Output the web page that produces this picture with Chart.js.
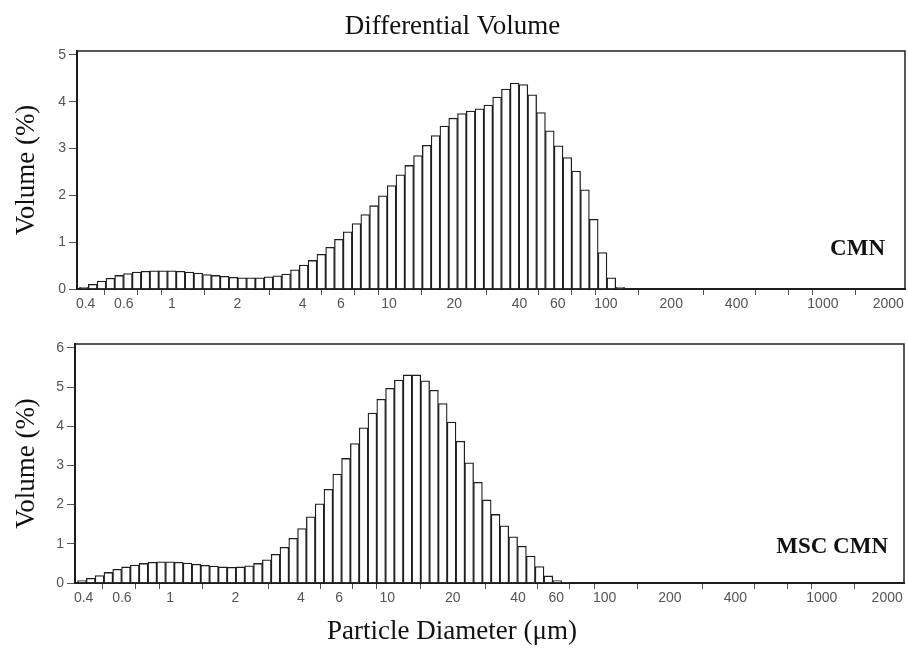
<!DOCTYPE html>
<html><head><meta charset="utf-8">
<script src="https://cdn.jsdelivr.net/npm/chart.js@4.4.0/dist/chart.umd.min.js"></script>
<style>
html,body{margin:0;padding:0;background:#fff;}
#wrap{position:relative;width:908px;height:648px;overflow:hidden;background:#fff;}
#c1{position:absolute;left:0;top:0;}
#c2{position:absolute;left:0;top:318px;}
</style></head><body>
<div id="wrap"><canvas id="c1" width="908" height="318"></canvas><canvas id="c2" width="908" height="330"></canvas></div>
<script>
// Lower edges of the size channels (µm)
const binEdges = [0.375, 0.4117, 0.4519, 0.4961, 0.5446, 0.5978, 0.6563, 0.7204, 0.7909, 0.8682,
  0.9531, 1.0463, 1.1486, 1.2609, 1.3842, 1.5195, 1.6681, 1.8311, 2.0102, 2.2067,
  2.4224, 2.6593, 2.9193, 3.2047, 3.5180, 3.8620, 4.2396, 4.6541, 5.1091, 5.6086,
  6.1570, 6.7590, 7.4198, 8.1452, 8.9415, 9.8156, 10.775, 11.829, 12.985, 14.255,
  15.648, 17.178, 18.858, 20.701, 22.725, 24.947, 27.386, 30.063, 33.003, 36.229,
  39.771, 43.659, 47.928, 52.614, 57.758, 63.405, 69.604, 76.409, 83.879, 92.080,
  101.08, 110.97, 121.81, 133.72];

// Differential volume (%) per channel
const cmnVolume = [0.04, 0.10, 0.17, 0.23, 0.29, 0.33, 0.36, 0.38, 0.39, 0.39,
  0.39, 0.38, 0.36, 0.34, 0.31, 0.29, 0.27, 0.25, 0.24, 0.24,
  0.24, 0.26, 0.28, 0.32, 0.41, 0.51, 0.61, 0.74, 0.89, 1.06,
  1.22, 1.40, 1.59, 1.78, 1.99, 2.21, 2.44, 2.64, 2.85, 3.07,
  3.28, 3.48, 3.65, 3.75, 3.80, 3.85, 3.93, 4.10, 4.27, 4.40,
  4.37, 4.15, 3.77, 3.38, 3.06, 2.81, 2.52, 2.12, 1.49, 0.78,
  0.24, 0.04, 0.01];

const mscCmnVolume = [0.06, 0.12, 0.19, 0.27, 0.35, 0.41, 0.46, 0.50, 0.53, 0.54,
  0.54, 0.53, 0.51, 0.48, 0.45, 0.43, 0.41, 0.40, 0.41, 0.44,
  0.50, 0.59, 0.73, 0.91, 1.14, 1.39, 1.69, 2.02, 2.39, 2.78,
  3.18, 3.56, 3.96, 4.34, 4.69, 4.97, 5.18, 5.31, 5.31, 5.16,
  4.92, 4.58, 4.11, 3.62, 3.07, 2.57, 2.12, 1.75, 1.46, 1.18,
  0.94, 0.69, 0.42, 0.18, 0.06, 0.02];

const xTickValues = [0.4, 0.6, 0.8, 1, 2, 4, 6, 8, 10, 20, 40, 60, 80, 100, 200, 400, 600, 800, 1000, 2000];
const xTickLabels = ['0.4', '0.6', '', '1', '2', '4', '6', '', '10', '20', '40', '60', '', '100', '200', '400', '', '', '1000', '2000'];
const yTicksTop = [0, 1, 2, 3, 4, 5];
const yTicksBottom = [0, 1, 2, 3, 4, 5, 6];

const chartTitle = 'Differential Volume';
const yTitle = 'Volume (%)';
const xTitle = 'Particle Diameter (\u03bcm)';
const sampleTop = 'CMN';
const sampleBottom = 'MSC CMN';

function toPoints(values) {
  return values.map((v, i) => ({ x: Math.sqrt(binEdges[i] * binEdges[i + 1]), y: v }));
}

const framePlugin = {
  id: 'frame',
  afterDraw(chart, args, o) {
    const { ctx, chartArea: a } = chart;
    ctx.save();
    ctx.strokeStyle = '#222';
    ctx.lineWidth = 1.5;
    ctx.strokeRect(a.left, a.top, a.right - a.left, a.bottom - a.top);
    ctx.font = 'bold 23px "Liberation Serif"';
    ctx.fillStyle = '#111';
    ctx.textAlign = 'right';
    ctx.textBaseline = 'alphabetic';
    ctx.fillText(o.label, a.right - o.dx, a.bottom - o.dy);
    ctx.restore();
  }
};

const tickFont = { family: '"Liberation Sans", Arial, sans-serif', size: 14 };
const serif = '"Liberation Serif", "Times New Roman", serif';

function makeChart(canvas, cfg) {
  return new Chart(canvas, {
    type: 'bar',
    data: {
      datasets: [{
        data: toPoints(cfg.values),
        backgroundColor: '#ffffff',
        borderColor: '#1e1e1e',
        borderWidth: 1.3,
        barPercentage: 1,
        categoryPercentage: 1
      }]
    },
    options: {
      responsive: false,
      animation: false,
      devicePixelRatio: 1,
      layout: { padding: cfg.padding },
      plugins: {
        legend: { display: false },
        tooltip: { enabled: false },
        title: cfg.title,
        frame: { label: cfg.label, dx: cfg.labelDx, dy: cfg.labelDy }
      },
      scales: {
        x: {
          type: 'logarithmic',
          min: 0.365,
          max: 2390,
          afterBuildTicks: (ax) => { ax.ticks = xTickValues.map(v => ({ value: v })); },
          afterFit: (s) => { s.height = cfg.xHeight; s.paddingLeft = 0; s.paddingRight = 0; },
          ticks: {
            autoSkip: false, maxRotation: 0, minRotation: 0,
            font: tickFont, color: '#555', padding: 1,
            callback: (v, i) => xTickLabels[i]
          },
          grid: { drawOnChartArea: false, drawTicks: true, tickLength: 6, color: '#555' },
          border: { display: true, color: '#111', width: 2 }
        },
        y: {
          type: 'linear',
          min: 0,
          max: cfg.yMax,
          afterBuildTicks: (ax) => { ax.ticks = cfg.yTicks.map(v => ({ value: v })); },
          afterFit: (s) => { s.width = cfg.yWidth; s.paddingTop = 0; s.paddingBottom = 0; },
          ticks: { font: tickFont, color: '#555', padding: 3 },
          grid: { drawOnChartArea: false, drawTicks: true, tickLength: 8, color: '#555' },
          border: { display: true, color: '#111', width: 2 },
          title: {
            display: true, text: yTitle, color: '#111',
            font: { family: serif, size: 27 }, padding: { top: 11, bottom: 0 }
          }
        }
      }
    },
    plugins: [framePlugin]
  });
}

makeChart(document.getElementById('c1'), {
  values: cmnVolume,
  yMax: 5.085,
  yTicks: yTicksTop,
  yWidth: 77,
  xHeight: 29,
  padding: { top: 0, left: 0, right: 3, bottom: 0 },
  title: {
    display: true, text: chartTitle, color: '#111', position: 'top',
    font: { family: serif, size: 27, weight: 'normal' }, padding: { top: 11, bottom: 7.6 }
  },
  label: sampleTop, labelDx: 20, labelDy: 34
});

makeChart(document.getElementById('c2'), {
  values: mscCmnVolume,
  yMax: 6.1,
  yTicks: yTicksBottom,
  yWidth: 75,
  xHeight: 28.6,
  padding: { top: 26, left: 0, right: 4, bottom: 0 },
  title: {
    display: true, text: xTitle, color: '#111', position: 'bottom',
    font: { family: serif, size: 27, weight: 'normal' }, padding: { top: 4, bottom: 0 }
  },
  label: sampleBottom, labelDx: 16, labelDy: 30
});
</script>
</body></html>
